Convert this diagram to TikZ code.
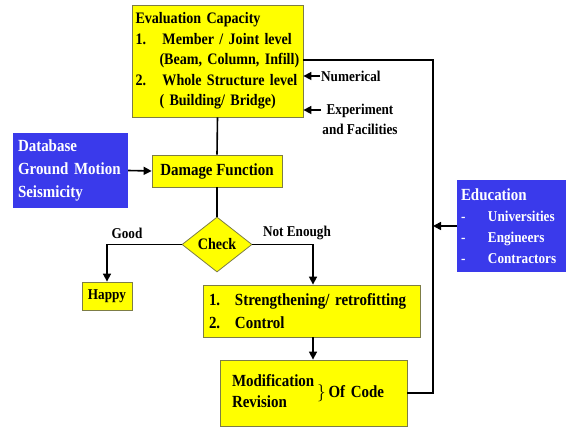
\documentclass[tikz,border=0pt]{standalone}
\usepackage{fontspec}
\setmainfont{Liberation Serif}[FakeStretch=0.88]
\usetikzlibrary{arrows.meta,positioning,calc,shapes.geometric}
\definecolor{boxyellow}{RGB}{255,255,0}
\definecolor{boxblue}{RGB}{58,58,235}
\definecolor{boxedge}{RGB}{125,125,70}
\newcommand{\bigtxt}{\bfseries\fontsize{17}{21}\selectfont}
\newcommand{\smalltxt}{\bfseries\fontsize{15}{21}\selectfont}

\begin{document}
\begin{tikzpicture}[x=1pt, y=-1pt,
  ybox/.style={draw=boxedge, fill=boxyellow, line width=0.8pt, inner sep=5pt, font=\bigtxt},
  bbox/.style={fill=boxblue, text=white, inner sep=5pt, align=left, font=\bigtxt},
  lbl/.style={font=\smalltxt, inner sep=1pt},
  conn/.style={line width=1.6pt},
  arr/.style={conn, -{Triangle[length=8pt,width=8pt]}}]
  \useasboundingbox (0,0) rectangle (566,427);
  %% boxes
  \node[ybox, minimum width=171pt, minimum height=112pt, text width=164pt, inner xsep=3.5pt, align=left,
        font=\bfseries\fontsize{16}{20.5}\selectfont] (eval) at (217.5,61)
    {Evaluation Capacity\\
     \makebox[27pt][l]{1.}Member / Joint level\\
     \hspace*{24pt}(Beam, Column, Infill)\\
     \makebox[27pt][l]{2.}Whole Structure level\\
     \hspace*{24pt}( Building/ Bridge)};
  \node[bbox, minimum width=115pt, minimum height=75pt, text width=105pt, font=\bfseries\fontsize{17}{23}\selectfont] (data) at (70.5,170.5)
    {Database\\ Ground Motion\\ Seismicity};
  \node[ybox, minimum width=130pt, minimum height=32pt] (dmg) at (217,171) {Damage Function};
  \node[ybox, shape=diamond, minimum width=70pt, minimum height=55pt, inner sep=0pt, font=\bfseries\fontsize{16}{20}\selectfont] (chk) at (217,244.5) {Check};
  \node[ybox, minimum width=50pt, minimum height=28pt, font=\smalltxt] (happy) at (107,296) {Happy};
  \node[ybox, minimum width=217pt, minimum height=52pt, text width=205pt, inner sep=6pt, align=left, font=\bfseries\fontsize{17}{23}\selectfont] (strg) at (311.5,311)
    {\makebox[26pt][l]{1.}Strengthening/ retrofitting\\
     \makebox[26pt][l]{2.}Control};
  \node[ybox, minimum width=187pt, minimum height=66pt, text width=163pt, inner sep=12pt, align=left] (modc) at (313.5,393)
    {\begin{tabular}{@{}l@{}}Modification\\Revision\end{tabular}\,$\Big\}$\,Of Code};
  \node[bbox, minimum width=109pt, minimum height=92pt, text width=101pt, inner sep=4pt] (edu) at (511.5,226)
    {Education\\
     {\smalltxt\makebox[27pt][l]{-}Universities\\
     \makebox[27pt][l]{-}Engineers\\
     \makebox[27pt][l]{-}Contractors}};
  %% labels
  \node[lbl] (good) at (127,233) {Good};
  \node[lbl] (noten) at (297,233) {Not Enough};
  \node[lbl, anchor=west] (num) at (320,76) {Numerical};
  \node[lbl, align=center, font=\bfseries\fontsize{15}{20}\selectfont] (expt) at (360,119) {Experiment\\ and Facilities};
  \coordinate (top) at (433,60);
  %% connectors
  \draw[conn] (eval.south) -- (dmg.north);
  \draw[arr] (data.east) -- (dmg.west);
  \draw[conn] (dmg.south) -- (chk.north);
  \draw[arr] (chk.west) -| (happy.north);
  \draw[arr] (chk.east) -| ([xshift=1.5pt]strg.north);
  \draw[arr] ([xshift=1.5pt]strg.south) -- ([xshift=1.5pt]strg.south |- modc.north);
  \draw[conn] (modc.east) -| (top) -- (top -| eval.east);
  \draw[arr] (edu.west) -- (edu.west -| top);
  \draw[arr] (num.west) -- (num.west -| eval.east);
  \draw[arr] ([yshift=9pt]expt.west) -- ([yshift=9pt]expt.west -| eval.east);
\end{tikzpicture}
\end{document}
